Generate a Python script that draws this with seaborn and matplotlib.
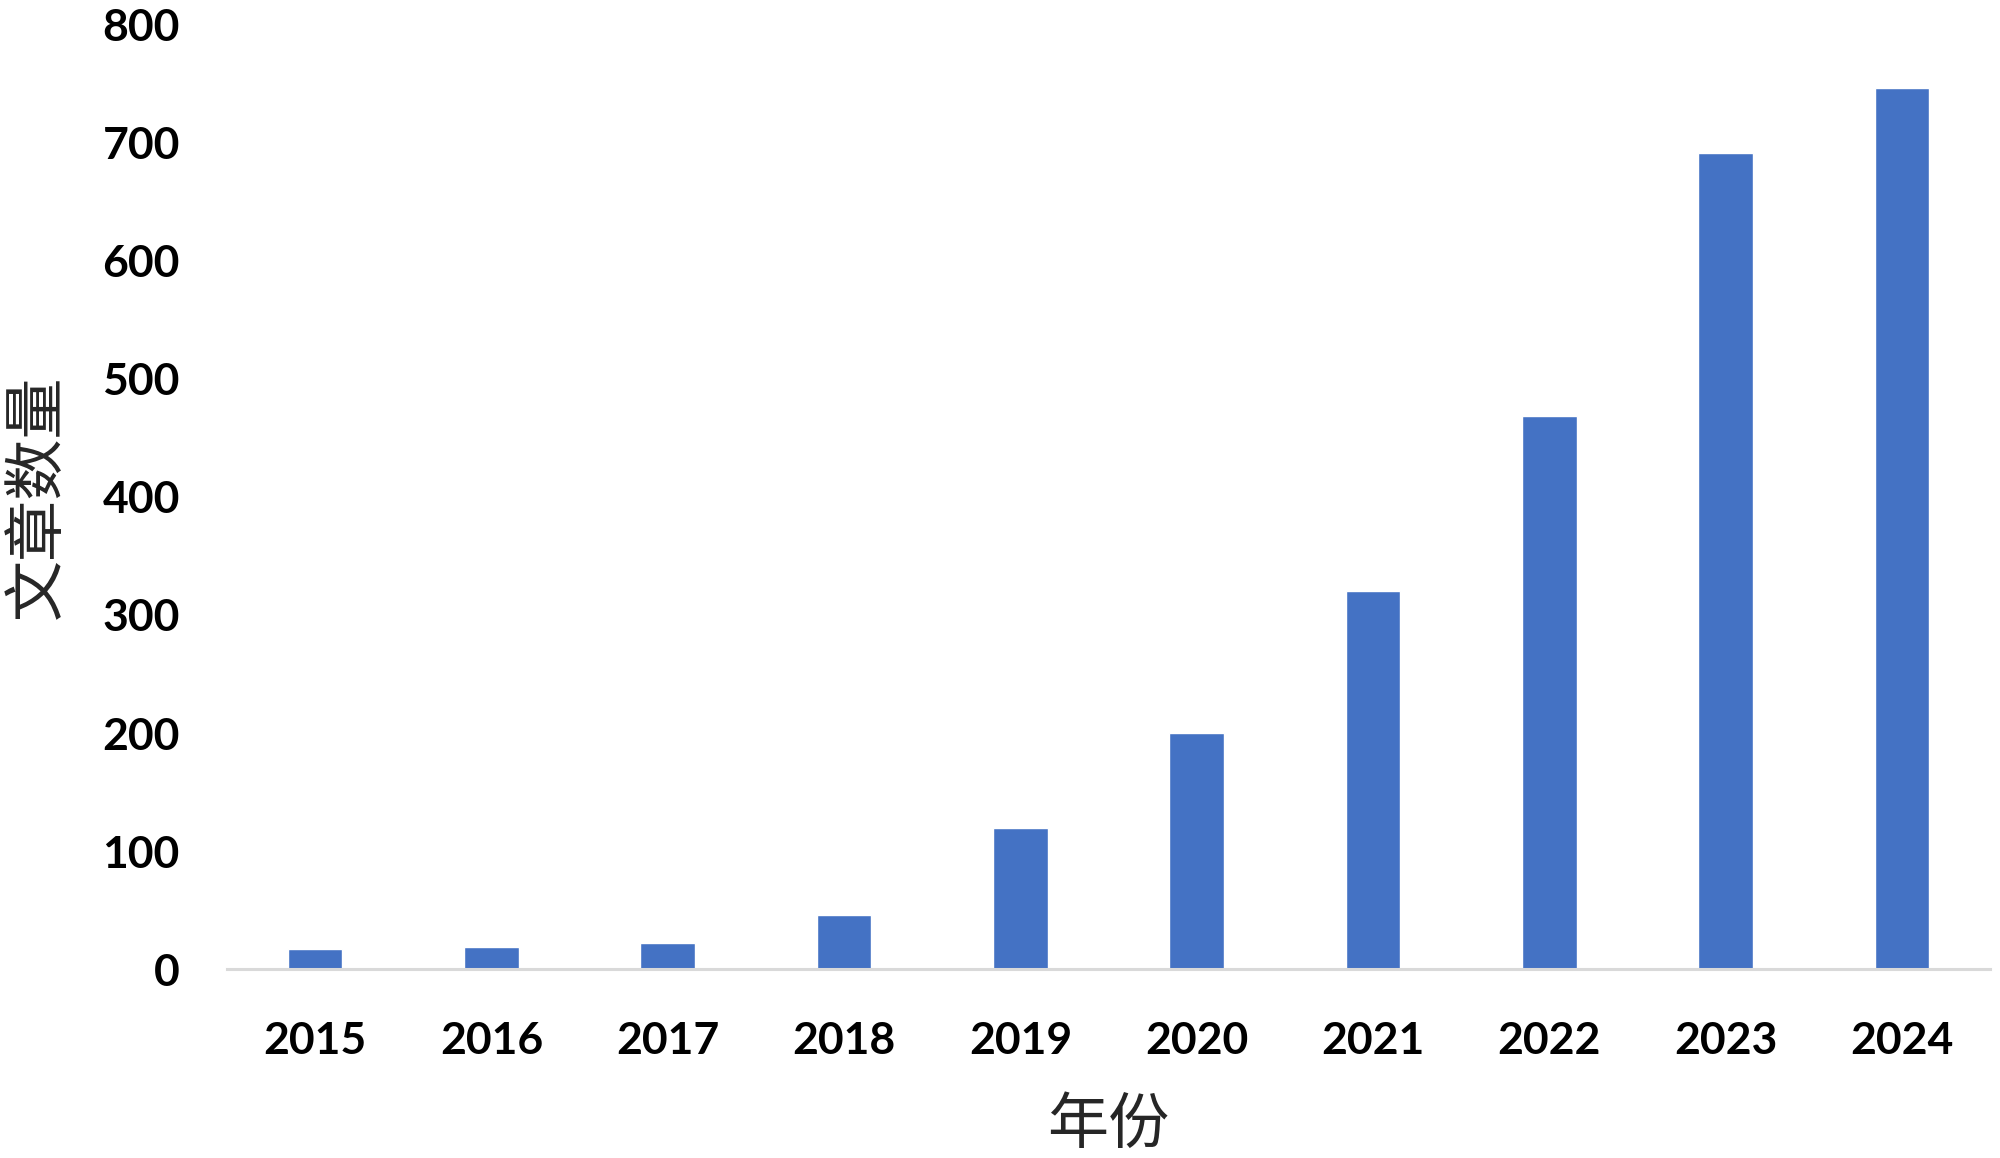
import matplotlib
matplotlib.use("Agg")
import matplotlib.pyplot as plt
import seaborn as sns
import pandas as pd

# data
years = ["2015", "2016", "2017", "2018", "2019", "2020", "2021", "2022", "2023", "2024"]
counts = [17, 19, 22, 46, 120, 200, 320, 468, 691, 746]

df = pd.DataFrame({"year": years, "count": counts})

sns.set_theme(style="white")
plt.rcParams["font.family"] = ["Lato", "Noto Sans CJK SC", "DejaVu Sans"]

fig = plt.figure(figsize=(20, 11.58), dpi=100)
ax = fig.add_axes([0.1135, 0.163, 0.8815, 0.816])

sns.barplot(data=df, x="year", y="count", color="#4472C4", saturation=1,
            width=0.31, ax=ax)

ax.set_ylim(0, 800)
ax.set_yticks(range(0, 801, 100))
ax.set_xlim(-0.5, len(years) - 0.5)

for s in ["top", "right", "left"]:
    ax.spines[s].set_visible(False)
ax.spines["bottom"].set_color("#d9d9d9")
ax.spines["bottom"].set_linewidth(2.2)

ax.tick_params(axis="both", length=0, labelsize=32, colors="black")
ax.tick_params(axis="y", pad=34)
ax.tick_params(axis="x", pad=37)
for lab in ax.get_xticklabels() + ax.get_yticklabels():
    lab.set_fontweight("bold")

ax.set_xlabel("年份", fontsize=44, family=["Noto Sans CJK SC"],
              fontweight="medium", labelpad=24)
ax.set_ylabel("文章数量", fontsize=44, family=["Noto Sans CJK SC"],
              fontweight="medium", labelpad=24)

fig.savefig("out.png", dpi=100)
